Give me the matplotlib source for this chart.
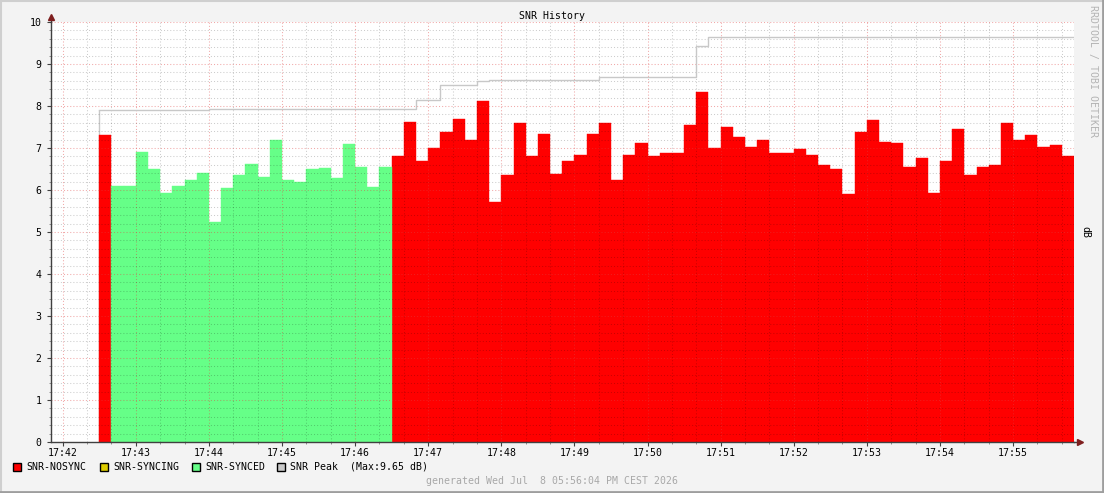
import matplotlib
matplotlib.use("Agg")
from matplotlib import pyplot as plt
from matplotlib.patches import Rectangle
from matplotlib.lines import Line2D
import numpy as np

W, H = 1104, 493

# samples: seconds after 17:42:00, one every 10 s
start_sec = 30
step_sec = 10
snr = [7.32,
       6.10, 6.10, 6.91, 6.51, 5.94, 6.10, 6.25, 6.41, 5.25, 6.05, 6.35, 6.63,
       6.32, 7.20, 6.25, 6.20, 6.51, 6.53, 6.29, 7.10, 6.55, 6.08, 6.55,
       6.80, 7.63, 6.70, 6.99, 7.39, 7.70, 7.18, 8.13, 5.72, 6.35, 7.60, 6.82,
       7.34, 6.37, 6.70, 6.84, 7.34, 7.60, 6.23, 6.84, 7.13, 6.80, 6.89, 6.87,
       7.55, 8.34, 6.99, 7.51,
       7.27, 7.03, 7.18, 6.89, 6.87, 6.98, 6.84, 6.59, 6.51, 5.90, 7.39, 7.67,
       7.15, 7.13, 6.54, 6.77, 5.94, 6.70, 7.46, 6.35, 6.55, 6.60, 7.60, 7.20,
       7.32, 7.02, 7.08, 6.82]
state = ["nosync"] + ["synced"] * 23 + ["nosync"] * 56

peak_t = [30, 120, 290, 310, 340, 350, 440, 520, 530]
peak_v = [7.91, 7.94, 8.14, 8.50, 8.60, 8.62, 8.69, 9.43, 9.65]
end_sec = 830

minute_labels = ["17:42", "17:43", "17:44", "17:45", "17:46", "17:47", "17:48",
                 "17:49", "17:50", "17:51", "17:52", "17:53", "17:54", "17:55"]

colors = {"nosync": "#FF0000", "syncing": "#DDCC00", "synced": "#66FF88"}
legend = [("SNR-NOSYNC", colors["nosync"]), ("SNR-SYNCING", colors["syncing"]),
          ("SNR-SYNCED", colors["synced"]), ("SNR Peak  (Max:9.65 dB)", "#C8C8C8")]

plt.rcParams["font.family"] = "DejaVu Sans Mono"
FS = 7.1

fig = plt.figure(figsize=(W / 100, H / 100), dpi=100, facecolor="#F3F3F3")
ax = fig.add_axes([51 / W, 1 - 442 / H, (1074 - 51) / W, 420 / H])
ax.set_facecolor("white")

t = start_sec + step_sec * np.arange(len(snr))
vals = np.array(snr)
st = np.array(state)
for name in ("nosync", "syncing", "synced"):
    m = st == name
    if m.any():
        ax.bar(t[m], vals[m], width=step_sec, align="edge", color=colors[name],
               edgecolor=colors[name], linewidth=0.3, zorder=2)

px = list(peak_t) + [end_sec]
py = list(peak_v) + [peak_v[-1]]
ax.step(px, py, where="post", color="#C8C8C8", lw=1.0, zorder=3)
ax.vlines(peak_t[0], 0, peak_v[0], color="#C8C8C8", lw=1.0, zorder=1)

ax.set_xlim(-9.6, end_sec)
ax.set_ylim(0, 10)
ax.set_xticks(np.arange(len(minute_labels)) * 60)
ax.set_xticklabels(minute_labels)
ax.set_xticks(np.arange(0, end_sec, 20), minor=True)
ax.set_yticks(np.arange(0, 11, 1))
ax.set_yticks(np.arange(0, 10.01, 0.2), minor=True)

# rrdtool draws its grid over the graph
dots = (0, (1, 2))
ax.set_axisbelow(False)
ax.grid(which="minor", color="#000000", alpha=0.2, lw=0.75, linestyle=dots)
ax.grid(which="major", color="#E04040", alpha=0.45, lw=0.75, linestyle=dots)
for gl in ax.get_xgridlines() + ax.get_ygridlines():
    gl.set_zorder(4)
for axis in (ax.xaxis, ax.yaxis):
    for tk in axis.get_minor_ticks():
        tk.gridline.set_zorder(4)

for s in ("top", "right"):
    ax.spines[s].set_visible(False)
for s in ("left", "bottom"):
    ax.spines[s].set_color("#404040")
    ax.spines[s].set_linewidth(1)
    ax.spines[s].set_zorder(5)
ax.tick_params(which="major", length=3, width=0.8, color="#404040",
               labelsize=FS, pad=1.5)
ax.tick_params(which="minor", length=1.5, width=0.6, color="#808080")
ax.tick_params(axis="y", pad=4)

# axis arrows
ax.plot([0, 0], [1, 1.012], transform=ax.transAxes, color="#404040", lw=1, clip_on=False)
ax.plot([1, 1.004], [0, 0], transform=ax.transAxes, color="#404040", lw=1, clip_on=False)
ax.plot([0], [1.012], marker="^", ms=4, color="#7F1F1F", transform=ax.transAxes, clip_on=False)
ax.plot([1.006], [0], marker=">", ms=4, color="#7F1F1F", transform=ax.transAxes, clip_on=False)

fig.text(0.5, 1 - 16 / H, "SNR History", ha="center", va="center", fontsize=FS)
fig.text(1085 / W, 1 - 232 / H, "dB", ha="center", va="center", rotation=270, fontsize=FS)
fig.text(1093 / W, 1 - 5 / H, "RRDTOOL / TOBI OETIKER", ha="center", va="top",
         rotation=270, fontsize=FS, color="#B4B4B4")

# legend row
lx = [13, 100, 192, 277]
for (label, c), x in zip(legend, lx):
    fig.add_artist(Rectangle((x / W, 1 - 470.5 / H), 7.5 / W, 8 / H,
                             transform=fig.transFigure, facecolor=c,
                             edgecolor="black", lw=1))
    fig.text((x + 13) / W, 1 - 466.5 / H, label, ha="left", va="center", fontsize=FS)

fig.text(552 / W, 1 - 481 / H, "generated Wed Jul  8 05:56:04 PM CEST 2026",
         ha="center", va="center", fontsize=FS, color="#A8A8A8")

# shaded frame
fig.add_artist(Line2D([0, 1], [1 - 1 / H, 1 - 1 / H], transform=fig.transFigure, color="#CFCFCF", lw=1.5))
fig.add_artist(Line2D([1 / W, 1 / W], [0, 1], transform=fig.transFigure, color="#CFCFCF", lw=1.5))
fig.add_artist(Line2D([0, 1], [1 / H, 1 / H], transform=fig.transFigure, color="#9E9E9E", lw=2))
fig.add_artist(Line2D([1 - 1 / W, 1 - 1 / W], [0, 1], transform=fig.transFigure, color="#9E9E9E", lw=2))

fig.savefig("out.png", dpi=100, facecolor=fig.get_facecolor())
